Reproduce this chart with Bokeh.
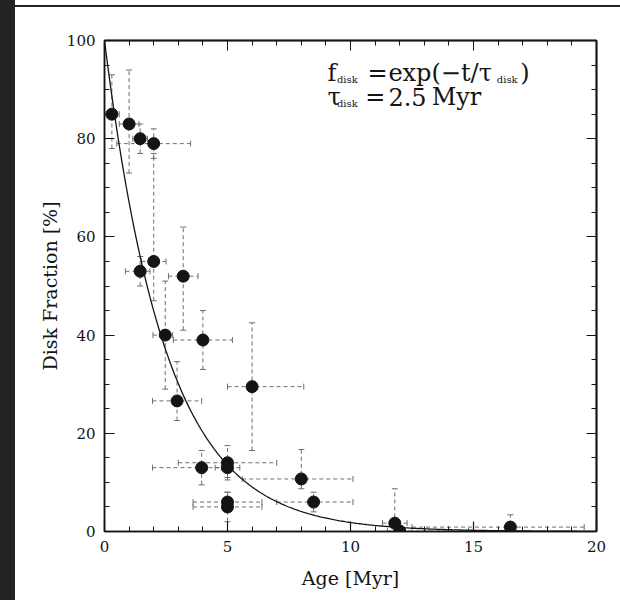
import numpy as np
from bokeh.plotting import figure
from bokeh.models import (ColumnDataSource, Whisker, TeeHead, Label, LinearAxis,
                          SingleIntervalTicker, FixedTicker, Range1d, Div)
from bokeh.layouts import row, column
from bokeh.embed import file_html
from bokeh.resources import INLINE

# Cluster ages [Myr] and disk fractions [%] with asymmetric uncertainties
age = [0.3, 1.0, 1.45, 2.0, 1.45, 2.0, 3.2, 2.47, 4.0, 6.0, 2.95,
       3.95, 5.0, 5.0, 5.0, 5.0, 8.0, 8.5, 11.8, 12.0, 16.5]
frac = [85.0, 83.0, 80.0, 79.0, 53.0, 55.0, 52.0, 40.0, 39.0, 29.5, 26.6,
        13.0, 14.0, 13.0, 6.0, 5.0, 10.7, 6.0, 1.7, 0.1, 0.9]
age_err_lo = [0.3, 0.4, 0.3, 1.5, 0.6, 0.5, 0.6, 0.5, 1.2, 1.0, 1.0,
              2.0, 2.0, 0.5, 1.4, 1.4, 2.4, 1.5, 0.5, 0.5, 4.0]
age_err_hi = [0.3, 0.4, 0.3, 1.5, 0.4, 0.5, 0.6, 0.3, 1.2, 2.1, 1.0,
              0.8, 2.0, 0.5, 1.4, 1.4, 2.1, 1.6, 0.5, 2.8, 3.0]
frac_err_lo = [7.0, 10.0, 3.0, 3.0, 3.0, 8.0, 11.0, 11.0, 6.0, 13.0, 4.0,
               3.5, 3.5, 2.0, 2.0, 3.0, 2.0, 2.0, 1.7, 0.1, 0.9]
frac_err_hi = [8.0, 11.0, 3.0, 3.0, 3.0, 22.0, 10.0, 11.0, 6.0, 13.0, 8.0,
               3.5, 3.5, 2.0, 2.0, 3.0, 6.0, 2.0, 7.0, 1.0, 2.5]

# Tick positions for the unlabeled top and right frame edges
x_major_ticks = [0, 5, 10, 15, 20]
x_minor_ticks = list(range(0, 21))
y_major_ticks = [0, 20, 40, 60, 80, 100]
y_minor_ticks = list(range(0, 101, 5))

# Exponential decay model of the disk fraction
tau_disk = 2.5  # Myr

FONT = "DejaVu Serif"
INK = "#141414"
BAR = "#6e6e6e"

src = ColumnDataSource(dict(
    age=age, frac=frac,
    age_lo=[a - e for a, e in zip(age, age_err_lo)],
    age_hi=[a + e for a, e in zip(age, age_err_hi)],
    frac_lo=[f - e for f, e in zip(frac, frac_err_lo)],
    frac_hi=[f + e for f, e in zip(frac, frac_err_hi)],
))

p = figure(width=605, height=593, x_range=Range1d(0, 20), y_range=Range1d(0, 100),
           output_backend="svg", toolbar_location=None,
           min_border_left=89, min_border_right=24, min_border_top=33,
           min_border_bottom=69, background_fill_color="white",
           border_fill_color="white")
p.xgrid.visible = False
p.ygrid.visible = False
p.outline_line_color = INK
p.outline_line_width = 1.5


def ink_axis(ax):
    ax.major_tick_out = 0
    ax.minor_tick_out = 0
    ax.axis_line_color = INK
    ax.axis_line_width = 1.5
    ax.major_tick_line_color = INK
    ax.minor_tick_line_color = INK
    ax.major_tick_line_width = 1.2
    ax.minor_tick_line_width = 1.0


def labeled_axis(ax, interval, minor, title, title_standoff):
    ink_axis(ax)
    ax.ticker = SingleIntervalTicker(interval=interval, num_minor_ticks=minor)
    ax.major_tick_in = 10
    ax.minor_tick_in = 5
    ax.major_label_text_font = FONT
    ax.major_label_text_color = INK
    ax.major_label_text_font_size = "15px"
    ax.major_label_standoff = 9
    ax.axis_label = title
    ax.axis_label_text_font = FONT
    ax.axis_label_text_font_size = "19px"
    ax.axis_label_text_font_style = "normal"
    ax.axis_label_text_color = INK
    ax.axis_label_standoff = title_standoff


def tick_only_axis(ticks, length):
    # no major ticks means no labels: the marks are drawn as minor ticks
    ax = LinearAxis(ticker=FixedTicker(ticks=[], minor_ticks=ticks))
    ink_axis(ax)
    ax.minor_tick_in = length
    return ax


labeled_axis(p.below[0], 5, 5, "Age [Myr]", 12)
labeled_axis(p.left[0], 20, 4, "Disk Fraction [%]", 3)

p.add_layout(tick_only_axis(x_major_ticks, 10), "above")
p.add_layout(tick_only_axis(x_minor_ticks, 5), "above")
p.add_layout(tick_only_axis(y_major_ticks, 10), "right")
p.add_layout(tick_only_axis(y_minor_ticks, 5), "right")

# Dashed error bars with short end caps
for kw in (dict(base="age", lower="frac_lo", upper="frac_hi", dimension="height"),
           dict(base="frac", lower="age_lo", upper="age_hi", dimension="width")):
    w = Whisker(source=src, line_color=BAR, line_width=1, line_dash="4 3",
                upper_head=TeeHead(size=6, line_color=BAR, line_width=1),
                lower_head=TeeHead(size=6, line_color=BAR, line_width=1), **kw)
    p.add_layout(w)

# Model curve
t = np.linspace(0, 20, 400)
p.line(t, 100 * np.exp(-t / tau_disk), line_color=INK, line_width=1.3)

p.scatter(x="age", y="frac", source=src, size=12, color=INK)


def put(text, x, y, size):
    p.add_layout(Label(x=x, y=y, text=text, text_font=FONT,
                       text_font_size=f"{size}px", text_color=INK,
                       text_baseline="alphabetic", text_align="left"))


# Model annotation in the upper right corner
put("f", 9.07, 93.3, 24)
put("disk", 9.45, 92.0, 10)
put("=", 10.69, 93.3, 24)
put("exp(\u2212t/\u03c4", 11.54, 93.3, 24)
put("disk", 15.95, 92.0, 10)
put(")", 16.9, 93.3, 24)
put("\u03c4", 9.07, 88.4, 24)
put("disk", 9.45, 87.1, 10)
put("=", 10.6, 88.4, 24)
put("2.5", 11.54, 88.4, 24)
put("Myr", 13.3, 88.4, 24)

left_band = Div(width=15, height=600, margin=0, styles={"background-color": "#222222"})
top_gap = Div(width=605, height=5, margin=0, styles={"background-color": "#ffffff"})
top_rule = Div(width=605, height=2, margin=0, styles={"background-color": "#222222"})
layout = row(left_band, column(top_gap, top_rule, p, spacing=0), spacing=0)

open("out.html", "w").write(file_html(layout, INLINE))
